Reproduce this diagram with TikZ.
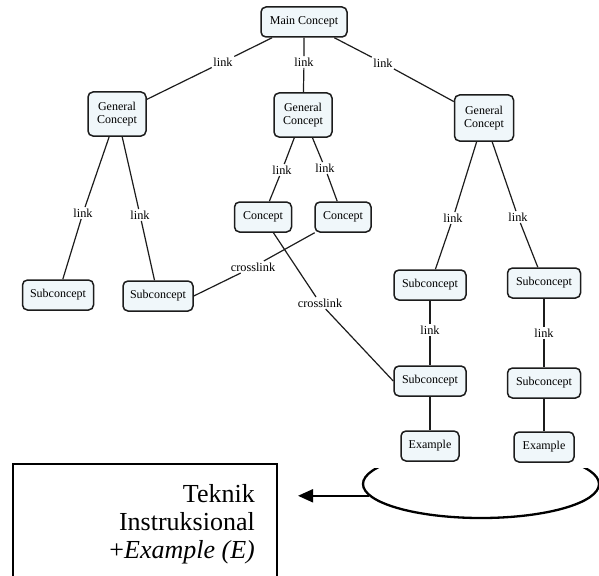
\documentclass[tikz,border=0pt]{standalone}
\usepackage{fontspec}
\setmainfont{Liberation Serif}
\usepackage{xcolor}
\usepackage{tikz}
\usetikzlibrary{shapes.geometric,arrows.meta}
\definecolor{cmapfill}{HTML}{F0F7FA}
\definecolor{cmapline}{HTML}{1C1C1C}
\tikzset{
  concept/.style={draw=cmapline,line width=1.5pt,fill=cmapfill,rounded corners=5pt,
    font=\fontsize{12}{13.5}\selectfont,inner sep=0pt,minimum height=30pt,align=center},
  linkword/.style={font=\fontsize{12.3}{14}\selectfont,inner sep=1.5pt},
  conn/.style={cmapline,line width=1.2pt}
}
\begin{document}
\begin{tikzpicture}[x=1pt,y=-1pt]
\path[use as bounding box,clip] (0,0) rectangle (599,575);
% concept map
\node[concept,minimum width=86pt] (main) at (304,22) {Main Concept};
\node[concept,minimum width=58pt,minimum height=44pt] (gc1) at (117,114) {General\\Concept};
\node[concept,minimum width=58pt,minimum height=44pt] (gc2) at (303,115) {General\\Concept};
\node[concept,minimum width=59pt,minimum height=46pt] (gc3) at (484,118) {General\\Concept};
\node[concept,minimum width=57pt] (c1) at (263,217) {Concept};
\node[concept,minimum width=56pt] (c2) at (343,217) {Concept};
\node[concept,minimum width=71pt] (s1) at (58,295) {Subconcept};
\node[concept,minimum width=70pt] (s2) at (158,296) {Subconcept};
\node[concept,minimum width=72pt] (s3) at (430,285) {Subconcept};
\node[concept,minimum width=73pt] (s4) at (544,283) {Subconcept};
\node[concept,minimum width=72pt] (s5) at (430,381) {Subconcept};
\node[concept,minimum width=73pt] (s6) at (544,383) {Subconcept};
\node[concept,minimum width=58pt] (ex1) at (430,446) {Example};
\node[concept,minimum width=60pt] (ex2) at (544,447) {Example};
\foreach \n/\p in {lk1/{223,62},lk2/{304,62},lk3/{383,63},lk4/{83,213},lk5/{140,215},
  lk6/{282,170},lk7/{325,168},lk8/{453,218},lk9/{518,217},lk10/{430,330},lk11/{544,333}}
  \node[linkword] (\n) at (\p) {link};
\node[linkword] (cl1) at (253,267) {crosslink};
\node[linkword] (cl2) at (320,303) {crosslink};
\foreach \a/\l/\b in {main/lk1/gc1,main/lk2/gc2,main/lk3/gc3,gc1/lk4/s1,gc1/lk5/s2,
  gc2/lk6/c1,gc2/lk7/c2,gc3/lk8/s3,gc3/lk9/s4,s3/lk10/s5,s4/lk11/s6}
  \draw[conn] (\a) -- (\l) -- (\b);
\draw[conn] (c2) -- (cl1) -- (s2.east);
\draw[conn] (c1) -- (cl2) -- (s5.west);
\draw[conn] (s5) -- (ex1);
\draw[conn] (s6) -- (ex2);
% ellipse, top hidden behind the map
\begin{scope}
\clip (340,468) rectangle (610,545);
\node[ellipse,draw,line width=2.3pt,minimum width=236pt,minimum height=68pt,inner sep=0pt] (ell) at (481,484) {};
\end{scope}
\coordinate (tip) at (298,496);
\draw[line width=2pt,-{Triangle[length=15pt,width=13pt]}] (ell.186) -- (ell.186 -| tip);
% text box
\draw[line width=2.2pt] (13,464) rectangle (277,590);
\node[anchor=north east,align=right,inner sep=0pt,font=\fontsize{26}{28}\selectfont] (teknik) at (255,484)
  {Teknik\\Instruksional\\+\textit{Example (E)}};
\end{tikzpicture}
\end{document}
